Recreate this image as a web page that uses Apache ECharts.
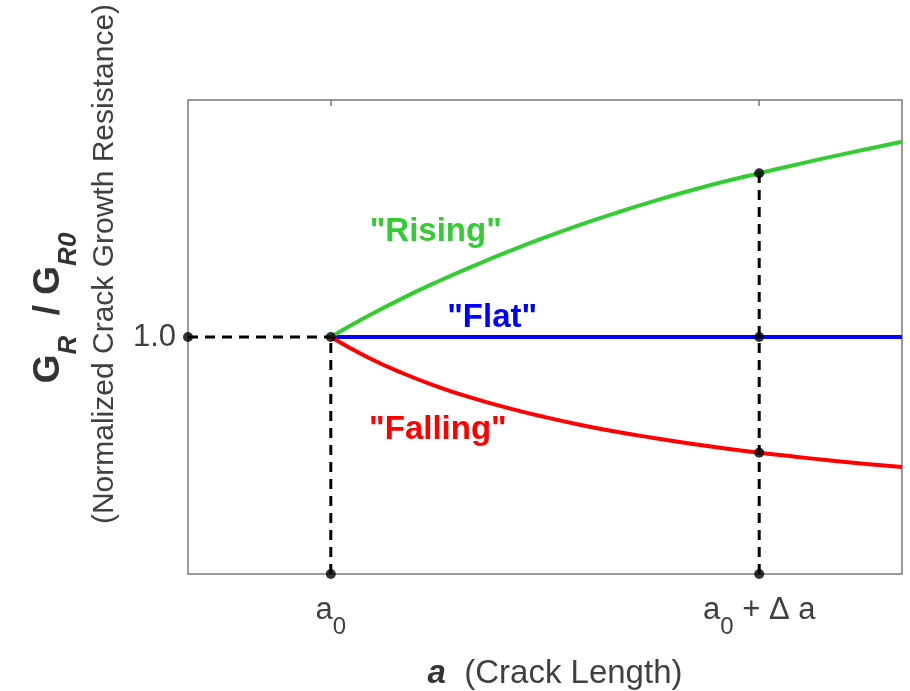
<!DOCTYPE html>
<html>
<head>
<meta charset="utf-8">
<script src="https://cdn.jsdelivr.net/npm/echarts@6/dist/echarts.min.js"></script>
<style>
  html, body { margin: 0; padding: 0; background: #fff; }
  #chart { width: 910px; height: 691px; }
</style>
</head>
<body>
<div id="chart"></div>
<script>
// Crack length positions (a) and normalized resistance curves G_R / G_R0
const crackLength = [2, 2.5, 3, 3.5, 4, 4.5, 5, 5.5, 6, 6.5, 7, 7.5, 8, 8.5, 9, 9.5, 10];
const rising  = [1.000, 1.085, 1.163, 1.234, 1.300, 1.362, 1.420, 1.474, 1.524, 1.571, 1.615, 1.655, 1.691, 1.726, 1.760, 1.792, 1.824];
const flat    = [1.000, 1.000, 1.000, 1.000, 1.000, 1.000, 1.000, 1.000, 1.000, 1.000, 1.000, 1.000, 1.000, 1.000, 1.000, 1.000, 1.000];
const falling = [1.000, 0.917, 0.848, 0.790, 0.741, 0.699, 0.662, 0.629, 0.600, 0.575, 0.552, 0.531, 0.512, 0.495, 0.479, 0.464, 0.451];

// Marked crack lengths and reference level
const a0 = 2;
const a0PlusDelta = 8;
const refLevel = 1.0;
const xTicks = [a0, a0PlusDelta];
const xTickLabels = ['{m|a}{s|0}', '{m|a}{s|0}{m| + \u0394 a}'];
const yTicks = [refLevel];
const yTickLabels = ['1.0'];

// Curve names shown beside each curve, with their anchor positions
const curveNames = ['"Rising"', '"Flat"', '"Falling"'];
const curveNameAt = [[3.47, 1.443], [4.26, 1.08], [3.50, 0.608]];

const FONT = '"Liberation Sans", Arial, Helvetica, sans-serif';
const GREEN = '#33cc33', BLUE = '#0000ff', RED = '#ff0000';

const pair = (xs, ys) => xs.map((x, i) => [x, ys[i]]);
const iEnd = crackLength.indexOf(a0PlusDelta);

const dashStyle = { color: '#000', width: 3, type: [10, 7] };
const dashed = (data) => ({
  type: 'line', data, symbol: 'none', lineStyle: dashStyle, z: 2, silent: true
});
const curve = (ys, color, nameIdx) => ({
  type: 'line', data: pair(crackLength, ys), symbol: 'none', smooth: true,
  lineStyle: { color, width: 4 }, z: 3, silent: true,
  markPoint: {
    symbol: 'circle', symbolSize: 1, itemStyle: { color: 'rgba(0,0,0,0)' },
    data: [{ coord: curveNameAt[nameIdx] }],
    label: {
      show: true, position: 'inside', formatter: curveNames[nameIdx],
      color, fontFamily: FONT, fontWeight: 'bold', fontSize: 33
    }
  }
});

const chart = echarts.init(document.getElementById('chart'), null, { renderer: 'canvas' });
chart.setOption({
  animation: false,
  backgroundColor: '#fff',
  grid: {
    left: 188, top: 100, right: 8, bottom: 117, show: true,
    borderColor: '#7a7a7a', borderWidth: 1.5, backgroundColor: 'transparent'
  },
  xAxis: [{
    type: 'value', min: 0, max: 10, position: 'bottom',
    axisLine: { show: false }, splitLine: { show: false },
    axisTick: { show: false },
    axisLabel: {
      customValues: xTicks, margin: 21, verticalAlign: 'top',
      formatter: (v) => xTickLabels[xTicks.indexOf(v)] || '',
      rich: {
        m: { fontFamily: FONT, fontSize: 31, color: '#404040', lineHeight: 36, verticalAlign: 'top' },
        s: { fontFamily: FONT, fontSize: 24, color: '#404040', lineHeight: 26, padding: [20, 0, 0, 0], verticalAlign: 'top' }
      }
    }
  }, {
    type: 'value', min: 0, max: 10, position: 'top',
    axisLine: { show: false }, splitLine: { show: false }, axisLabel: { show: false },
    axisTick: { show: true, inside: true, length: 6, customValues: xTicks, lineStyle: { color: '#7a7a7a', width: 1.5 } }
  }],
  yAxis: {
    type: 'value', min: 0, max: 2,
    axisLine: { show: false }, splitLine: { show: false }, axisTick: { show: false },
    axisLabel: {
      customValues: yTicks, margin: 12,
      formatter: (v) => yTickLabels[yTicks.indexOf(v)] || '',
      fontFamily: FONT, fontSize: 31, color: '#404040'
    }
  },
  graphic: [
    {
      type: 'text', x: 50, y: 308, rotation: Math.PI / 2,
      style: {
        text: '{g|G}{s|R}{g|  / }{g|G}{s|R0}', align: 'center', verticalAlign: 'middle',
        rich: {
          g: { fontFamily: FONT, fontWeight: 'bold', fontSize: 37, fill: '#333', lineHeight: 40, verticalAlign: 'top' },
          s: { fontFamily: FONT, fontWeight: 'bold', fontStyle: 'italic', fontSize: 26, fill: '#333', lineHeight: 26, padding: [26, 0, 0, 0], verticalAlign: 'top' }
        }
      }
    },
    {
      type: 'text', x: 105, y: 264, rotation: Math.PI / 2,
      style: {
        text: '(Normalized Crack Growth Resistance)', align: 'center', verticalAlign: 'middle',
        font: '30px ' + FONT, fill: '#404040'
      }
    },
    {
      type: 'text', x: 555, y: 674,
      style: {
        text: '{b|a}{n|  (Crack Length)}', align: 'center', verticalAlign: 'middle',
        rich: {
          b: { fontFamily: FONT, fontWeight: 'bold', fontStyle: 'italic', fontSize: 33, fill: '#333' },
          n: { fontFamily: FONT, fontSize: 33, fill: '#404040' }
        }
      }
    }
  ],
  series: [
    dashed([[0, refLevel], [a0, refLevel]]),
    dashed([[a0, 0], [a0, refLevel]]),
    dashed([[a0PlusDelta, 0], [a0PlusDelta, rising[iEnd]]]),
    curve(flat, BLUE, 1),
    curve(rising, GREEN, 0),
    curve(falling, RED, 2),
    {
      type: 'scatter', symbol: 'circle', symbolSize: 10, clip: false, z: 5, silent: true,
      itemStyle: { color: '#000' },
      data: [
        [0, refLevel], [a0, refLevel], [a0, 0],
        [a0PlusDelta, 0], [a0PlusDelta, flat[iEnd]],
        [a0PlusDelta, rising[iEnd]], [a0PlusDelta, falling[iEnd]]
      ]
    }
  ]
});
</script>
</body>
</html>
